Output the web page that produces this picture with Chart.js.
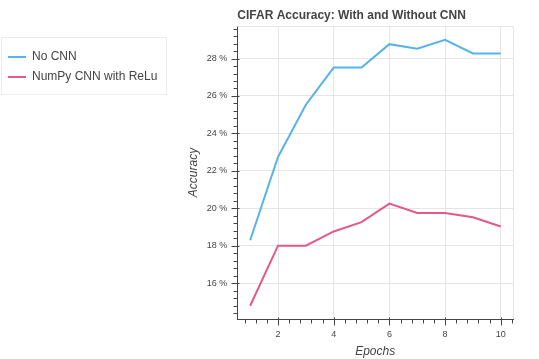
<!DOCTYPE html>
<html><head><meta charset="utf-8">
<script src="https://cdn.jsdelivr.net/npm/chart.js@4/dist/chart.umd.min.js"></script>
<style>html,body{margin:0;padding:0;background:#fff;}#wrap{width:539px;height:359px;}</style>
</head><body><div id="wrap"><canvas id="c" width="539" height="359"></canvas></div>
<script>
// ---- data ----
const epochs = [1, 2, 3, 4, 5, 6, 7, 8, 9, 10];
const noCnn = [18.29, 22.74, 25.53, 27.52, 27.52, 28.77, 28.52, 29.0, 28.27, 28.27];
const numpyCnn = [14.79, 18.0, 18.0, 18.76, 19.26, 20.25, 19.75, 19.75, 19.52, 19.02];
const seriesNames = ['No CNN', 'NumPy CNN with ReLu'];
const xTickValues = [2, 4, 6, 8, 10];
const yTickValues = [16, 18, 20, 22, 24, 26, 28];
const minorStep = 0.4;

const FONT = "'Liberation Sans', Arial, Helvetica, sans-serif";
const AXIS = '#444444';
const GRID = '#e5e5e5';

const toPoints = arr => epochs.map((e, i) => ({x: e, y: arr[i]}));

const titleToPlotLeft = {
  id: 'titleToPlotLeft',
  afterLayout(chart) {
    if (chart.titleBlock) chart.titleBlock.left = chart.chartArea.left;
    const lg = chart.legend;
    if (lg) { const h = lg.height; lg.top = chart.chartArea.top + 17; lg.bottom = lg.top + h; }
  }
};

const plotFrame = {
  id: 'plotFrame',
  beforeDatasetsDraw(chart) {
    const {ctx, chartArea: a} = chart;
    ctx.save();
    ctx.strokeStyle = GRID; ctx.lineWidth = 1;
    ctx.beginPath();
    ctx.moveTo(a.left, Math.round(a.top) + 0.5);
    ctx.lineTo(Math.round(a.right) + 0.5, Math.round(a.top) + 0.5);
    ctx.lineTo(Math.round(a.right) + 0.5, a.bottom);
    ctx.stroke();
    ctx.restore();
  },
  afterDraw(chart) {
    const {ctx, chartArea: a} = chart;
    ctx.save();
    ctx.strokeStyle = AXIS; ctx.lineWidth = 1;
    const ys = chart.scales.y;
    const xl = Math.round(a.left) + 0.5;
    for (let k = Math.ceil(ys.min / minorStep); k * minorStep <= ys.max; k++) {
      const p = Math.round(ys.getPixelForValue(k * minorStep)) + 0.5;
      ctx.beginPath(); ctx.moveTo(xl - 4, p); ctx.lineTo(xl, p); ctx.stroke();
    }
    yTickValues.forEach(v => {
      const p = Math.round(ys.getPixelForValue(v)) + 0.5;
      ctx.beginPath(); ctx.moveTo(xl - 6, p); ctx.lineTo(xl + 2, p); ctx.stroke();
    });
    const xs = chart.scales.x;
    const yb = Math.round(a.bottom) + 0.5;
    for (let k = Math.ceil(xs.min / minorStep); k * minorStep <= xs.max; k++) {
      const p = Math.round(xs.getPixelForValue(k * minorStep)) + 0.5;
      ctx.beginPath(); ctx.moveTo(p, yb); ctx.lineTo(p, yb + 4); ctx.stroke();
    }
    xTickValues.forEach(v => {
      const p = Math.round(xs.getPixelForValue(v)) + 0.5;
      ctx.beginPath(); ctx.moveTo(p, yb - 2); ctx.lineTo(p, yb + 6); ctx.stroke();
    });
    const lg = chart.legend;
    if (lg) {
      ctx.strokeStyle = '#ececec';
      ctx.strokeRect(lg.left + 1.5, lg.top - 5.5, 165, 57);
    }
    ctx.restore();
  }
};

new Chart(document.getElementById('c'), {
  type: 'line',
  data: {
    datasets: [
      {label: seriesNames[0], data: toPoints(noCnn), borderColor: '#56b4e9', backgroundColor: '#56b4e9', borderWidth: 2, pointRadius: 0, tension: 0},
      {label: seriesNames[1], data: toPoints(numpyCnn), borderColor: '#e6578a', backgroundColor: '#e6578a', borderWidth: 2, pointRadius: 0, tension: 0}
    ]
  },
  options: {
    responsive: false,
    animation: false,
    devicePixelRatio: 1,
    layout: {padding: {left: 0, right: 26, top: 0, bottom: 0}},
    plugins: {
      title: {
        display: true, text: 'CIFAR Accuracy: With and Without CNN', align: 'start',
        color: AXIS, font: {family: FONT, size: 12, weight: 'bold'},
        padding: {top: 8, bottom: 3.6}
      },
      legend: {
        position: 'left', align: 'start', maxWidth: 175,
        labels: {
          usePointStyle: true, pointStyle: 'line', pointStyleWidth: 18,
          padding: 8, color: AXIS, font: {family: FONT, size: 12}
        }
      },
      tooltip: {enabled: false}
    },
    scales: {
      x: {
        type: 'linear', min: 0.54, max: 10.44,
        afterBuildTicks: s => { s.ticks = xTickValues.map(v => ({value: v})); },
        afterFit: s => { s.height = 40; },
        grid: {color: GRID, drawTicks: false},
        border: {display: true, color: AXIS, width: 1},
        ticks: {color: AXIS, font: {family: FONT, size: 9}, padding: 10, maxRotation: 0, callback: v => String(v)},
        title: {display: true, text: 'Epochs', color: AXIS, font: {family: FONT, size: 12, style: 'italic'}, padding: {top: 2.4, bottom: 0.5}}
      },
      y: {
        type: 'linear', min: 14.08, max: 29.74,
        afterBuildTicks: s => { s.ticks = yTickValues.map(v => ({value: v})); },
        afterFit: s => { s.width = 70; },
        grid: {color: GRID, drawTicks: false},
        border: {display: true, color: AXIS, width: 1},
        ticks: {color: AXIS, font: {family: FONT, size: 9}, padding: 10, callback: v => v + ' %'},
        title: {display: true, text: 'Accuracy', color: AXIS, font: {family: FONT, size: 12, style: 'italic'}, padding: {top: 19, bottom: 0}}
      }
    }
  },
  plugins: [titleToPlotLeft, plotFrame]
});
</script></body></html>
